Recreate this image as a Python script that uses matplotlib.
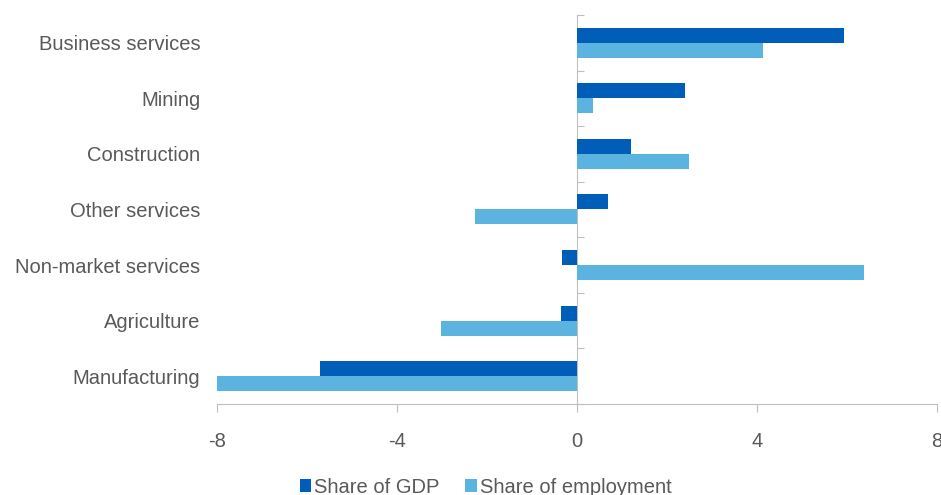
import numpy as np
import matplotlib.pyplot as plt

plt.rcParams['font.family'] = ['Liberation Sans', 'DejaVu Sans']

CATEGORIES = ['Business services', 'Mining', 'Construction', 'Other services',
              'Non-market services', 'Agriculture', 'Manufacturing']
GDP = [5.93, 2.4, 1.2, 0.69, -0.33, -0.36, -5.7]
EMPLOYMENT = [4.13, 0.35, 2.48, -2.27, 6.38, -3.02, -8.0]
XTICKS = [-8, -4, 0, 4, 8]

DARK = '#005EB8'
LIGHT = '#5BB4E0'
GREY = '#BFBFBF'
TEXT = '#595959'


def draw():
    fig = plt.figure(figsize=(9.41, 4.95), dpi=100)
    ax = fig.add_axes([0.2306, 0.1838, 0.765, 0.786])

    n = len(CATEGORIES)
    y = np.arange(n)[::-1]
    h = 0.27
    ax.barh(y + h / 2, GDP, height=h, color=DARK, label='Share of GDP')
    ax.barh(y - h / 2, EMPLOYMENT, height=h, color=LIGHT, label='Share of employment')

    ax.set_xlim(-8, 8)
    ax.set_ylim(-0.5, n - 0.5)
    ax.set_xticks(XTICKS)
    ax.set_xticklabels([str(t) for t in XTICKS])
    ax.set_yticks(y)
    ax.set_yticklabels(CATEGORIES)

    for s in ['top', 'right', 'left']:
        ax.spines[s].set_visible(False)
    ax.spines['bottom'].set_color(GREY)
    ax.tick_params(axis='x', colors=GREY, length=6, labelcolor=TEXT,
                   labelsize=14.5, pad=14)
    ax.tick_params(axis='y', length=0, labelcolor=TEXT, labelsize=14.5, pad=12)

    # vertical axis line at zero with ticks between categories
    sec = ax.secondary_yaxis(0.5)
    sec.set_yticks(np.arange(n + 1) - 0.5)
    sec.set_yticklabels([])
    for sp in sec.spines.values():
        sp.set_color(GREY)
    sec.tick_params(axis='y', direction='out', length=5, colors=GREY)

    fig.legend(loc='lower center', bbox_to_anchor=(0.516, -0.04), ncol=2,
               frameon=False, fontsize=14.5, handlelength=0.55, handleheight=0.55,
               handletextpad=0.15, columnspacing=1.3, labelcolor=TEXT)

    fig.savefig('out.png', dpi=100)


if __name__ == '__main__':
    draw()
